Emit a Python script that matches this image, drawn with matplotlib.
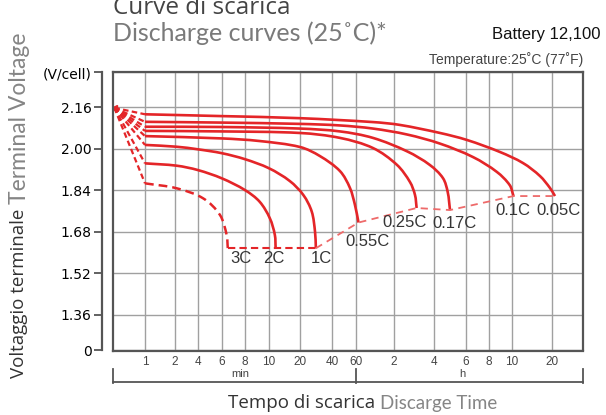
import matplotlib
matplotlib.use("Agg")
import matplotlib.pyplot as plt
import numpy as np
from matplotlib.patches import PathPatch
from matplotlib.path import Path

# discharge curves, time in minutes, terminal voltage per cell
start_t, start_v = 0.52, 2.158

t_3c = [1, 2.1, 4.37, 5.8, 6.36, 6.45]
v_3c = [1.867, 1.848, 1.809, 1.745, 1.668, 1.617]

t_2c = [1, 2.1, 4.0, 6, 8, 9.17, 10.2, 11.4, 11.6]
v_2c = [1.944, 1.935, 1.918, 1.886, 1.841, 1.796, 1.732, 1.668, 1.617]

t_1c = [1, 2.1, 4, 6, 8, 10, 15.9, 21.5, 25.8, 27.7, 28.2]
v_1c = [2.015, 2.008, 1.998, 1.983, 1.960, 1.925, 1.876, 1.822, 1.758, 1.680, 1.617]

t_055c = [1, 6, 9.16, 20, 30.8, 45.8, 54.2, 59.0, 62.8]
v_055c = [2.049, 2.040, 2.030, 2.007, 1.972, 1.914, 1.849, 1.783, 1.716]

t_025c = [1, 6, 20, 45.8, 81.8, 126.4, 158.3, 172.7, 177.6]
v_025c = [2.069, 2.067, 2.061, 2.042, 2.003, 1.938, 1.872, 1.822, 1.772]

t_017c = [1, 6, 20, 45.8, 81.8, 150.9, 223, 268.9, 285.6, 294]
v_017c = [2.085, 2.084, 2.078, 2.067, 2.042, 1.990, 1.938, 1.887, 1.833, 1.764]

t_01c = [1, 6, 20, 45.8, 81.8, 150.9, 259, 393.5, 518, 587, 615.8]
v_01c = [2.104, 2.101, 2.096, 2.090, 2.078, 2.055, 2.020, 1.968, 1.911, 1.860, 1.818]

t_005c = [1, 6, 20, 81.8, 133, 259, 364.5, 533, 727, 975, 1159, 1248]
v_005c = [2.133, 2.126, 2.118, 2.103, 2.092, 2.061, 2.034, 1.988, 1.945, 1.895, 1.849, 1.818]

solid_curves = [("2C", t_2c, v_2c), ("1C", t_1c, v_1c), ("0.55C", t_055c, v_055c),
                ("0.25C", t_025c, v_025c), ("0.17C", t_017c, v_017c),
                ("0.1C", t_01c, v_01c), ("0.05C", t_005c, v_005c)]

# label offsets from each curve's end point (pixels)
label_offsets = {"3C": (13, -10), "2C": (-2, -10), "1C": (6, -10), "0.55C": (9, -19),
                 "0.25C": (-12, -15), "0.17C": (4, -13), "0.1C": (-1, -14), "0.05C": (4, -14)}

x_ticks = [1, 2, 4, 6, 8, 10, 20, 40, 60, 120, 240, 360, 480, 600, 1200]
x_labels = ["1", "2", "4", "6", "8", "10", "20", "40", "60", "2", "4", "6", "8", "10", "20"]
y_ticks = [0, 1.36, 1.52, 1.68, 1.84, 2.00, 2.16, 2.294]
y_labels = ["0", "1.36", "1.52", "1.68", "1.84", "2.00", "2.16", "(V/cell)"]

# the time axis is hand-spaced: minutes on the left, hours on the right
X_KNOTS_MIN = [0.5, 1, 2, 4, 6, 8, 10, 20, 40, 60, 120, 240, 360, 480, 600, 1200, 1800]
X_KNOTS_POS = [112.5, 145, 175, 198, 222, 245, 269, 300, 332, 356, 394, 434, 466, 489, 512, 552, 583]
_lg = np.log10(X_KNOTS_MIN)


def t_fwd(t):
    t = np.clip(np.asarray(t, float), 1e-6, None)
    return np.interp(np.log10(t), _lg, X_KNOTS_POS)


def t_inv(p):
    return 10 ** np.interp(np.asarray(p, float), X_KNOTS_POS, _lg)


# voltage axis is broken between 0 and 1.36
Y_KNOTS_V = [0, 1.36, 3.0]
Y_KNOTS_POS = [1.223, 1.36, 3.0]


def v_fwd(v):
    return np.interp(np.asarray(v, float), Y_KNOTS_V, Y_KNOTS_POS)


def v_inv(p):
    return np.interp(np.asarray(p, float), Y_KNOTS_POS, Y_KNOTS_V)


W, H = 606, 415
RED = "#e42528"
EDGE = "#555555"
SANS = ["Liberation Sans", "DejaVu Sans"]
DISPLAY = ["Open Sans", "DejaVu Sans"]
THIN = ["Lato", "DejaVu Sans"]

fig = plt.figure(figsize=(W / 100, H / 100), dpi=100)
ax = fig.add_axes([112.5 / W, 1 - 350.5 / H, (583 - 112.5) / W, (350.5 - 72.5) / H])
ax.set_xscale("function", functions=(t_fwd, t_inv))
ax.set_yscale("function", functions=(v_fwd, v_inv))
ax.set_xlim(0.5, 1800)
ax.set_ylim(0, 2.294)

ax.set_xticks(x_ticks)
ax.set_xticklabels(x_labels, fontsize=8.5, color="#444444", family=SANS)
ax.set_yticks(y_ticks)
ax.set_yticklabels(y_labels, fontsize=9, color="#444444", family=SANS)
ax.minorticks_off()
ax.tick_params(axis="x", length=0, pad=4)
ax.tick_params(axis="y", length=6, width=1.3, color=EDGE, pad=1.5)
ax.grid(True, color="#a0a0a0", lw=1)
ax.set_axisbelow(True)

for side in ["top", "right", "bottom", "left"]:
    ax.spines[side].set_color(EDGE)
    ax.spines[side].set_linewidth(1.6)
ax.spines["left"].set_position(("outward", 7.5))
ax.plot([0, 0], [0, 1], transform=ax.transAxes, color=EDGE, lw=1.6, clip_on=False, zorder=5)

scaled_to_disp = ax.transLimits + ax.transAxes


def smooth_curve(t, v, **style):
    # chord-length Catmull-Rom through the points, built in screen space
    d = scaled_to_disp.transform(np.column_stack([t_fwd(t), v_fwd(v)]))
    seg = np.linalg.norm(np.diff(d, axis=0), axis=1)
    tang = np.zeros_like(d)
    tang[0] = (d[1] - d[0]) / seg[0]
    tang[-1] = (d[-1] - d[-2]) / seg[-1]
    for i in range(1, len(d) - 1):
        tang[i] = (d[i + 1] - d[i - 1]) / (seg[i - 1] + seg[i])
    verts, codes = [d[0]], [Path.MOVETO]
    for i in range(len(d) - 1):
        verts += [d[i] + tang[i] * seg[i] / 3, d[i + 1] - tang[i + 1] * seg[i] / 3, d[i + 1]]
        codes += [Path.CURVE4] * 3
    verts = scaled_to_disp.inverted().transform(np.array(verts))
    ax.add_patch(PathPatch(Path(verts, codes), transform=scaled_to_disp, fill=False,
                           capstyle="butt", **style))


# fan of short dashes from the initial voltage to the start of each curve
for t, v in [(t_3c, v_3c)] + [(c[1], c[2]) for c in solid_curves]:
    ax.plot([start_t, t[0]], [start_v, v[0]], color=RED, lw=1.6, ls=(0, (2.5, 1.5)),
            solid_capstyle="butt")
ax.plot([start_t], [start_v], marker="<", color=RED, ms=4)

# 3C is drawn dashed
smooth_curve(t_3c, v_3c, edgecolor=RED, lw=1.8, ls=(0, (3.5, 2)))

for name, t, v in solid_curves:
    smooth_curve(t, v, edgecolor=RED, lw=1.9)

# end-voltage lines
ax.plot([t_3c[-1], t_2c[-1], t_1c[-1]], [v_3c[-1], v_2c[-1], v_1c[-1]],
        color=RED, lw=1.5, ls=(0, (3.5, 2)))
ends_t = [c[1][-1] for c in solid_curves[1:]]
ends_v = [c[2][-1] for c in solid_curves[1:]]
ax.plot(ends_t, ends_v, color="#ee6a6a", lw=1.3, ls=(0, (4, 3)))

for name, t, v in [("3C", t_3c, v_3c)] + solid_curves:
    dx, dy = label_offsets[name]
    ax.annotate(name, (t[-1], v[-1]), xytext=(dx, dy), textcoords="offset pixels",
                ha="center", va="center", fontsize=12, color="#353535", family=SANS)

# min / h bracket under the time axis
bx = ax.get_xaxis_transform()
y_line, y_top = -0.113, -0.066
ax.plot([0.5, 1800], [y_line, y_line], transform=bx, color=EDGE, lw=1.3, clip_on=False)
for xt in [0.5, 60, 1800]:
    ax.plot([xt, xt], [y_top, y_line - 0.004], transform=bx, color=EDGE, lw=1.3, clip_on=False)
ax.text(0.271, -0.086, "min", transform=ax.transAxes, ha="center", va="center",
        fontsize=8, color="#444444", family=SANS)
ax.text(0.743, -0.086, "h", transform=ax.transAxes, ha="center", va="center",
        fontsize=8, color="#444444", family=SANS)

ax.text(1.0, 1.047, "Temperature:25˚C (77˚F)", transform=ax.transAxes, ha="right",
        va="center", fontsize=10, color="#444444", family=SANS)
fig.text(601 / W, 1 - 35 / H, "Battery 12,100", ha="right", va="center", fontsize=12,
         color="#111111", family=SANS)

fig.text(113 / W, 1 - 14 / H, "Curve di scarica", ha="left", va="baseline", fontsize=17.5,
         color="#444444", family=DISPLAY)
fig.text(113 / W, 1 - 33 / H, "Discharge curves (25˚C)*", ha="left", va="center",
         fontsize=18, color="#7a7a7a", family=THIN, fontweight="normal")


def two_tone(x_px, y_px, first, second, rotation, size, size2):
    kw = dict(rotation=rotation, rotation_mode="anchor", ha="left", va="center")
    t1 = fig.text(x_px / W, 1 - y_px / H, first, color="#333333", fontweight="medium",
                  fontsize=size, family=DISPLAY, **kw)
    fig.canvas.draw()
    bb = t1.get_window_extent()
    kw2 = dict(color="#858585", fontweight="normal", fontsize=size2, family=THIN, **kw)
    if rotation == 90:
        fig.text(x_px / W, (bb.y1 + 5) / H, second, **kw2)
    else:
        fig.text((bb.x1 + 5) / W, 1 - y_px / H, second, **kw2)


two_tone(19, 378, "Voltaggio terminale", "Terminal Voltage", 90, 13.5, 16.5)
two_tone(228, 403, "Tempo di scarica", "Discarge Time", 0, 13.5, 13.5)

fig.savefig("out.png", dpi=100)
